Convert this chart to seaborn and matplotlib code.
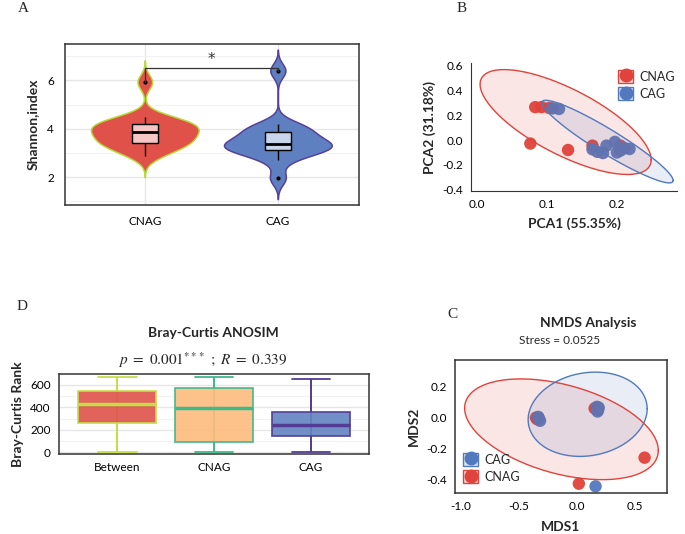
import numpy as np
import pandas as pd
import matplotlib
matplotlib.use("Agg")
import matplotlib.pyplot as plt
import seaborn as sns
from matplotlib.patches import Patch
from matplotlib.lines import Line2D
from matplotlib.legend_handler import HandlerTuple
from matplotlib.ticker import MultipleLocator, FormatStrFormatter

# ---- data ----
# A: Shannon index per sample
groups_a = ["CNAG", "CAG"]
shannon_cnag = [2.89, 3.10, 3.30, 3.38, 3.44, 3.55, 3.70, 3.82, 3.90, 3.98, 4.08,
                4.18, 4.26, 4.35, 4.48, 5.93]
shannon_cag = [1.96, 2.69, 3.00, 3.08, 3.16, 3.25, 3.32, 3.38, 3.45, 3.60, 3.80,
               3.92, 4.05, 4.20, 6.40]

# B: PCA scores
pca_cnag_x = [0.083, 0.092, 0.103, 0.076, 0.130, 0.165, 0.205]
pca_cnag_y = [0.265, 0.265, 0.258, -0.028, -0.080, -0.045, -0.045]
pca_cag_x = [0.108, 0.117, 0.165, 0.172, 0.180, 0.185, 0.197, 0.200, 0.205, 0.211, 0.218]
pca_cag_y = [0.255, 0.250, -0.075, -0.095, -0.105, -0.045, -0.015, -0.100, -0.085, -0.065, -0.072]
pca_ell_cx = [0.1265, 0.1865]
pca_ell_cy = [0.145, -0.0125]
pca_ell_sx = [0.1225, 0.094]
pca_ell_sy = [0.422, 0.3325]
pca_ell_rho = [-0.72, -0.94]

# D: Bray-Curtis ranks (min, Q1, median, Q3, max per group)
groups_d = ["Between", "CNAG", "CAG"]
rank_between = [0, 260, 428, 541, 664]
rank_cnag = [6, 92, 392, 569, 664]
rank_cag = [0, 141, 242, 355, 651]

# C: NMDS scores
nmds_cnag_x = [-0.355, -0.345, 0.150, 0.580, 0.014]
nmds_cnag_y = [0.000, -0.010, 0.060, -0.258, -0.426]
nmds_cag_x = [-0.330, -0.320, -0.335, 0.170, 0.180, 0.175, 0.185, 0.158]
nmds_cag_y = [-0.005, -0.020, 0.005, 0.070, 0.050, 0.040, 0.065, -0.443]
nmds_ell_cx = [-0.1355, 0.09]
nmds_ell_cy = [-0.075, 0.022]
nmds_ell_sx = [0.8335, 0.5125]
nmds_ell_sy = [0.325, 0.272]
nmds_ell_rho = [-0.42, 0.13]

# colours
red = "#E0433B"
blue = "#5279BE"
W, H = 685, 534


def box(l, t, r, b):
    # pixel box -> figure fraction rect
    return [l / W, 1 - b / H, (r - l) / W, (b - t) / H]


def nrd0(kde):
    # R's default bandwidth, as a factor of the sd
    d = np.asarray(kde.dataset).ravel()
    sd = d.std(ddof=1)
    q75, q25 = np.percentile(d, [75, 25])
    return 0.9 * min(sd, (q75 - q25) / 1.34) * len(d) ** -0.2 / sd


def ellipse_xy(cx, cy, sx, sy, rho, n_seg=150):
    # outline of an ellipse given centre, x/y half ranges and correlation
    t = np.linspace(0, 2 * np.pi, n_seg)
    phi = np.arccos(rho)
    return cx + sx * np.cos(t), cy + sy * np.cos(t - phi)


def draw_ellipses(ax, cxs, cys, sxs, sys_, rhos, colors):
    for cx, cy, sx, sy, rho, c in zip(cxs, cys, sxs, sys_, rhos, colors):
        ex, ey = ellipse_xy(cx, cy, sx, sy, rho)
        ax.fill(ex, ey, color=c, alpha=0.13, lw=0)
        ax.plot(ex, ey, color=c, lw=1)


def key_handles(colors, lights):
    return [(Patch(facecolor=lc, edgecolor=c, lw=1),
             Line2D([], [], marker="o", ls="", color=c, ms=9))
            for c, lc in zip(colors, lights)]


sns.set_style("white")
plt.rcParams["font.family"] = ["Lato", "DejaVu Sans"]
plt.rcParams["mathtext.fontset"] = "stix"
plt.rcParams["axes.edgecolor"] = "#333333"
plt.rcParams["xtick.color"] = "#333333"
plt.rcParams["ytick.color"] = "#333333"
plt.rcParams["xtick.labelcolor"] = "black"
plt.rcParams["ytick.labelcolor"] = "black"

fig = plt.figure(figsize=(6.85, 5.34), dpi=100)

# ---------------- A: violin ----------------
ax = fig.add_axes(box(65, 44, 359, 205))
df_a = pd.DataFrame({
    "group": ["CNAG"] * len(shannon_cnag) + ["CAG"] * len(shannon_cag),
    "shannon": shannon_cnag + shannon_cag,
})
sns.violinplot(data=df_a, x="group", y="shannon", hue="group", order=groups_a,
               hue_order=groups_a, palette=["#DF5149", "#5E80C0"], inner=None,
               cut=3, bw_method=nrd0, density_norm="area", width=0.81,
               linewidth=1.1, saturation=1, legend=False, ax=ax)
for coll, ec in zip(ax.collections, ["#B5D936", "#56409A"]):
    coll.set_edgecolor(ec)
sns.boxplot(data=df_a, x="group", y="shannon", hue="group", order=groups_a,
            hue_order=groups_a, palette=["#F5C6C4", "#C8D5EA"], width=0.2,
            linecolor="black", linewidth=1, showcaps=False, saturation=1,
            medianprops=dict(linewidth=2),
            flierprops=dict(marker="o", markerfacecolor="black", markeredgecolor="black",
                            markersize=2), legend=False, ax=ax)
# significance bracket
top = 6.5
ax.plot([0, 0, 1, 1], [max(shannon_cnag), top, top, max(shannon_cag)], color="#333333", lw=0.9)
ax.text(0.5, 6.88, "*", ha="center", va="center", fontsize=11, color="#333333",
        family="DejaVu Sans")
ax.set_xlim(-0.6, 1.61)
ax.set_ylim(0.85, 7.5)
ax.yaxis.set_major_locator(MultipleLocator(2))
ax.yaxis.set_minor_locator(MultipleLocator(1))
ax.grid(True, which="major", color="#E6E6E6", lw=1)
ax.grid(True, which="minor", axis="y", color="#F2F2F2", lw=0.8)
ax.set_axisbelow(True)
ax.tick_params(which="major", length=3, width=0.8, labelsize=8.5, pad=5)
ax.tick_params(which="minor", length=0)
ax.set_xlabel("")
ax.set_ylabel("Shannon,index", fontsize=10, weight="bold", labelpad=6)
for s in ax.spines.values():
    s.set_linewidth(1.1)

# ---------------- B: PCA ----------------
ax = fig.add_axes(box(471, 63, 677, 191))
sns.scatterplot(x=pca_cnag_x, y=pca_cnag_y, color=red, s=80, edgecolor="none",
                alpha=0.95, ax=ax)
sns.scatterplot(x=pca_cag_x, y=pca_cag_y, color=blue, s=80, edgecolor="none",
                alpha=0.95, ax=ax)
draw_ellipses(ax, pca_ell_cx, pca_ell_cy, pca_ell_sx, pca_ell_sy, pca_ell_rho, [red, blue])
ax.set_xlim(-0.009, 0.286)
ax.set_ylim(-0.41, 0.62)
ax.xaxis.set_major_locator(MultipleLocator(0.1))
ax.yaxis.set_major_locator(MultipleLocator(0.2))
ax.xaxis.set_major_formatter(FormatStrFormatter("%.1f"))
ax.yaxis.set_major_formatter(FormatStrFormatter("%.1f"))
ax.tick_params(length=3, width=0.8, labelsize=8.5, pad=3)
sns.despine(ax=ax)
ax.set_xlabel("PCA1 (55.35%)", fontsize=10, weight="bold", labelpad=5)
ax.set_ylabel("PCA2 (31.18%)", fontsize=10, weight="bold", labelpad=4)
ax.legend(key_handles([red, blue], ["#FADADA", "#DDE5F3"]), ["CNAG", "CAG"],
          handler_map={tuple: HandlerTuple(ndivide=1)},
          loc="upper left", bbox_to_anchor=(618 / W, 1 - 70 / H),
          bbox_transform=fig.transFigure, frameon=False, borderpad=0, borderaxespad=0,
          handlelength=1.2, handleheight=1.2, handletextpad=0.5, labelspacing=0.35,
          fontsize=9)

# ---------------- D: ANOSIM boxplot ----------------
ax = fig.add_axes(box(59, 374, 369, 454))
df_d = pd.DataFrame({
    "group": ["Between"] * len(rank_between) + ["CNAG"] * len(rank_cnag) + ["CAG"] * len(rank_cag),
    "rank": rank_between + rank_cnag + rank_cag,
})
fills_d = ["#DE524A", "#FDBB7D", "#6383C2"]
edges_d = ["#C3DF45", "#3FB98A", "#533D94"]
for i, (g, fc, ec) in enumerate(zip(groups_d, fills_d, edges_d)):
    sub = df_d[df_d["group"] == g]
    ax.vlines(i, sub["rank"].min(), sub["rank"].max(), color=ec, lw=1.2, zorder=1)
    sns.boxplot(data=sub, x="group", y="rank", order=groups_d, color=fc,
                linecolor=ec, linewidth=1.3, width=0.8, saturation=1,
                boxprops=dict(alpha=0.9, zorder=2),
                medianprops=dict(linewidth=2.5, color=ec, zorder=3),
                whiskerprops=dict(color=ec), capprops=dict(color=ec),
                ax=ax)
ax.set_xlim(-0.6, 2.6)
ax.set_ylim(-15, 695)
ax.yaxis.set_major_locator(MultipleLocator(200))
ax.yaxis.set_minor_locator(MultipleLocator(100))
ax.grid(True, which="major", axis="y", color="#E6E6E6", lw=1)
ax.grid(True, which="minor", axis="y", color="#F2F2F2", lw=0.8)
ax.set_axisbelow(True)
ax.tick_params(which="major", length=3, width=0.8, labelsize=8.5, pad=3)
ax.tick_params(which="minor", length=0)
ax.set_xlabel("")
ax.set_ylabel("Bray-Curtis Rank", fontsize=10, weight="bold", labelpad=4)
for s in ax.spines.values():
    s.set_linewidth(1.1)
fig.text(213 / W, 1 - 333 / H, "Bray-Curtis ANOSIM", ha="center", va="center",
         fontsize=10, weight="bold")
fig.text(203 / W, 1 - 360 / H, r"$p\ =\ 0.001^{***}\ ;\ R\ =\ 0.339$", ha="center",
         va="center", fontsize=11)

# ---------------- C: NMDS ----------------
ax = fig.add_axes(box(455, 360, 667, 493))
sns.scatterplot(x=nmds_cnag_x, y=nmds_cnag_y, color=red, s=80, edgecolor="none",
                alpha=0.95, ax=ax)
sns.scatterplot(x=nmds_cag_x, y=nmds_cag_y, color=blue, s=80, edgecolor="none",
                alpha=0.95, ax=ax)
draw_ellipses(ax, nmds_ell_cx, nmds_ell_cy, nmds_ell_sx, nmds_ell_sy, nmds_ell_rho, [red, blue])
ax.set_xlim(-1.052, 0.773)
ax.set_ylim(-0.486, 0.372)
ax.xaxis.set_major_locator(MultipleLocator(0.5))
ax.yaxis.set_major_locator(MultipleLocator(0.2))
ax.xaxis.set_major_formatter(FormatStrFormatter("%.1f"))
ax.yaxis.set_major_formatter(FormatStrFormatter("%.1f"))
ax.tick_params(length=3, width=0.8, labelsize=8.5, pad=3)
for s in ax.spines.values():
    s.set_linewidth(1.1)
ax.set_xlabel("MDS1", fontsize=10, weight="bold", labelpad=6)
ax.set_ylabel("MDS2", fontsize=10, weight="bold", labelpad=4)
ax.legend(key_handles([blue, red], ["#DDE5F3", "#FADADA"]), ["CAG", "CNAG"],
          handler_map={tuple: HandlerTuple(ndivide=1)},
          loc="upper left", bbox_to_anchor=(463 / W, 1 - 453 / H),
          bbox_transform=fig.transFigure, frameon=False, borderpad=0, borderaxespad=0,
          handlelength=1.2, handleheight=1.2, handletextpad=0.5, labelspacing=0.35,
          fontsize=9)
fig.text(588 / W, 1 - 323 / H, "NMDS Analysis", ha="center", va="center",
         fontsize=10, weight="bold")
fig.text(560 / W, 1 - 340 / H, "Stress = 0.0525", ha="center", va="center", fontsize=8.5)

# panel letters
for lab, px, py in [("A", 23, 9), ("B", 462, 9), ("D", 22, 307), ("C", 452, 315)]:
    fig.text(px / W, 1 - py / H, lab, ha="center", va="center", fontsize=11,
             family="Liberation Serif")

plt.savefig("out.png", dpi=100)
